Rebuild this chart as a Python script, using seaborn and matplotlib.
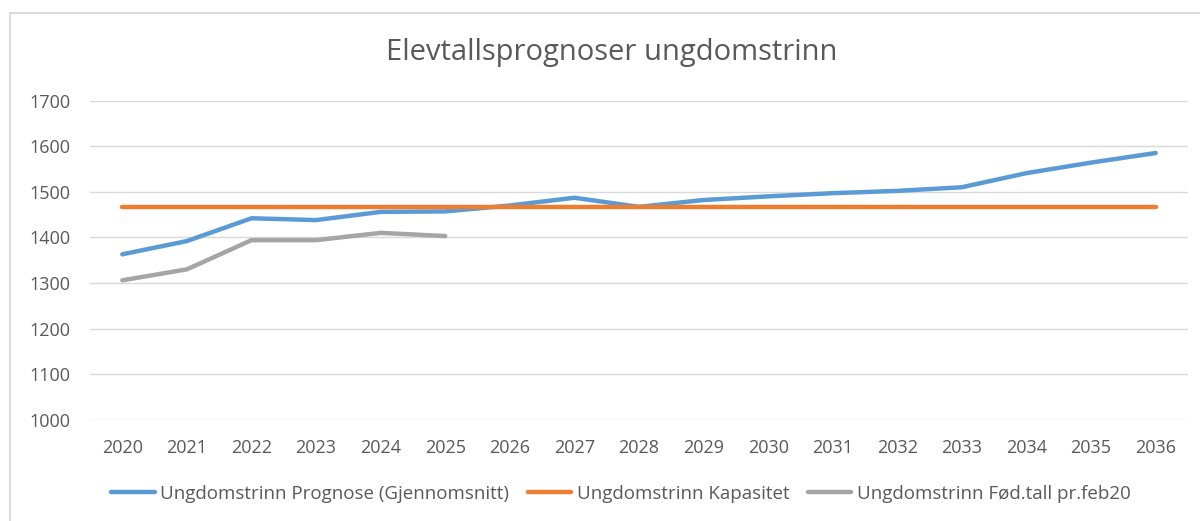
import numpy as np
import pandas as pd
import matplotlib.pyplot as plt
import seaborn as sns
from matplotlib.lines import Line2D

# Data
years = [2020, 2021, 2022, 2023, 2024, 2025, 2026, 2027, 2028,
         2029, 2030, 2031, 2032, 2033, 2034, 2035, 2036]
prognose = [1363, 1392, 1442, 1438, 1456, 1457, 1470, 1487, 1467,
            1482, 1490, 1497, 1502, 1510, 1541, 1564, 1585]
kapasitet = [1466, 1466, 1466, 1466, 1466, 1466, 1466, 1466, 1466,
             1466, 1466, 1466, 1466, 1466, 1466, 1466, 1466]
fodtall_years = [2020, 2021, 2022, 2023, 2024, 2025]
fodtall = [1306, 1330, 1394, 1394, 1410, 1403]

series_names = ["Ungdomstrinn Prognose (Gjennomsnitt)",
                "Ungdomstrinn Kapasitet",
                "Ungdomstrinn Fød.tall pr.feb20"]
colors = ["#5B9BD5", "#ED7D31", "#A5A5A5"]
yticks = [1000, 1100, 1200, 1300, 1400, 1500, 1600, 1700]

df = pd.concat([
    pd.DataFrame({"År": years, "Elever": prognose, "Serie": series_names[0]}),
    pd.DataFrame({"År": years, "Elever": kapasitet, "Serie": series_names[1]}),
    pd.DataFrame({"År": fodtall_years, "Elever": fodtall, "Serie": series_names[2]}),
])

sns.set_theme(style="white")
plt.rcParams["font.family"] = ["Open Sans", "DejaVu Sans"]
text_color = "#595959"

fig = plt.figure(figsize=(12, 5.21), dpi=100)
ax = fig.add_axes([0.075, 0.194, 0.915, 0.613])

sns.lineplot(data=df, x="År", y="Elever", hue="Serie", hue_order=series_names,
             palette=colors, linewidth=3.2, ax=ax, legend=True,
             solid_capstyle="round")

ax.set_xlim(2019.5, 2036.5)
ax.set_ylim(1000, 1700)
ax.set_xticks(years)
ax.set_yticks(yticks)
ax.set_xlabel("")
ax.set_ylabel("")
ax.grid(axis="y", color="#D9D9D9", linewidth=1)
ax.set_axisbelow(True)
for s in ax.spines.values():
    s.set_visible(False)
ax.tick_params(axis="both", length=0, labelsize=13, colors=text_color)
ax.tick_params(axis="y", pad=14)
ax.tick_params(axis="x", pad=14)

handles, labels = ax.get_legend_handles_labels()
ax.get_legend().remove()
fig.legend(handles, labels, loc="center", bbox_to_anchor=(0.5175, 0.052),
           ncol=3, frameon=False, fontsize=13.5, labelcolor=text_color,
           handlelength=2.3, columnspacing=1.0, handletextpad=0.3)

fig.text(0.51, 0.9, "Elevtallsprognoser ungdomstrinn", ha="center",
         va="center", fontsize=21, color=text_color)

# chart frame
fig.add_artist(Line2D([10 / 1200, 1], [1 - 13 / 521, 1 - 13 / 521],
                      transform=fig.transFigure, color="#D9D9D9", linewidth=1.5))
fig.add_artist(Line2D([10 / 1200, 10 / 1200], [0, 1 - 13 / 521],
                      transform=fig.transFigure, color="#D9D9D9", linewidth=1.5))

fig.savefig("out.png", dpi=100, facecolor="white")
